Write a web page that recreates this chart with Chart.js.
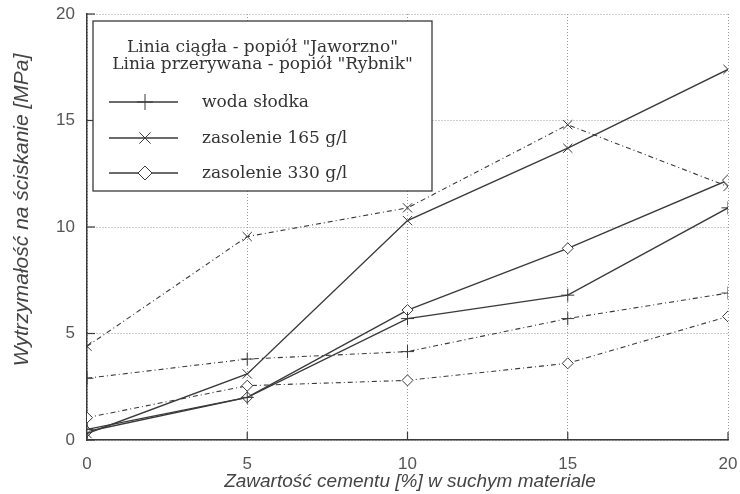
<!DOCTYPE html>
<html>
<head>
<meta charset="utf-8">
<script src="https://cdn.jsdelivr.net/npm/chart.js"></script>
<style>
  html, body { margin: 0; padding: 0; background: #fff; }
  #wrap { width: 740px; height: 494px; position: relative; }
</style>
</head>
<body>
<div id="wrap"><canvas id="wykres" width="740" height="494"></canvas></div>
<script>
"use strict";

// zawartość cementu [%]
var cement = [0, 5, 10, 15, 20];
var yTicks = [0, 5, 10, 15, 20];

// popiół "Jaworzno" (linia ciągła)
var jawWoda = [0.5, 2.0, 5.7, 6.8, 10.9];
var jaw165 = [0.3, 3.1, 10.3, 13.7, 17.4];
var jaw330 = [0.4, 2.0, 6.1, 9.0, 12.2];

// popiół "Rybnik" (linia przerywana)
var rybWoda = [2.9, 3.8, 4.15, 5.7, 6.9];
var ryb165 = [4.4, 9.55, 10.9, 14.8, 11.9];
var ryb330 = [1.05, 2.55, 2.8, 3.6, 5.8];

var legendHead = ['Linia ciągła - popiół "Jaworzno"', 'Linia przerywana - popiół "Rybnik"'];
var legendNames = ["woda słodka", "zasolenie 165 g/l", "zasolenie 330 g/l"];
var markers = ["cross", "crossRot", "rectRot"];

var xTitle = "Zawartość cementu [%] w suchym materiale";
var yTitle = "Wytrzymałość na ściskanie [MPa]";

var LINE = "#3a3a3a";
var DASHDOT = [5, 3, 1, 3];

function punkty(vals) {
  return vals.map(function (v, i) { return { x: cement[i], y: v }; });
}

function seria(label, vals, k, dashed) {
  return {
    label: label,
    data: punkty(vals),
    borderColor: LINE,
    borderWidth: dashed ? 1.1 : 1.4,
    borderDash: dashed ? DASHDOT : [],
    pointStyle: markers[k],
    pointRadius: k == 2 ? 5.5 : 6.5,
    pointBorderWidth: 1,
    pointBorderColor: LINE,
    pointBackgroundColor: "#fff",
    tension: 0,
    fill: false
  };
}

var datasets = [
  seria(legendNames[0] + " (Jaworzno)", jawWoda, 0, false),
  seria(legendNames[1] + " (Jaworzno)", jaw165, 1, false),
  seria(legendNames[2] + " (Jaworzno)", jaw330, 2, false),
  seria(legendNames[0] + " (Rybnik)", rybWoda, 0, true),
  seria(legendNames[1] + " (Rybnik)", ryb165, 1, true),
  seria(legendNames[2] + " (Rybnik)", ryb330, 2, true)
];

// krótkie kreski podziałki do wewnątrz + opisy osi
var osie = {
  id: "osie",
  afterDraw: function (chart) {
    var ctx = chart.ctx, a = chart.chartArea;
    var sx = chart.scales.x, sy = chart.scales.y;
    ctx.save();
    ctx.strokeStyle = LINE;
    ctx.lineWidth = 1.2;
    ctx.setLineDash([]);
    cement.forEach(function (v) {
      var px = sx.getPixelForValue(v);
      ctx.beginPath(); ctx.moveTo(px, a.bottom); ctx.lineTo(px, a.bottom - 8); ctx.stroke();
    });
    yTicks.forEach(function (v) {
      var py = sy.getPixelForValue(v);
      ctx.beginPath(); ctx.moveTo(a.left, py); ctx.lineTo(a.left + 8, py); ctx.stroke();
    });

    ctx.fillStyle = "#444";
    ctx.textAlign = "center";
    ctx.textBaseline = "middle";
    ctx.font = "italic 19px 'Liberation Sans', Arial, sans-serif";
    ctx.fillText(xTitle, 410, 482);
    ctx.font = "italic 21px 'Liberation Sans', Arial, sans-serif";
    ctx.translate(22, 210);
    ctx.rotate(-Math.PI / 2);
    ctx.fillText(yTitle, 0, 0);
    ctx.restore();
  }
};

// legenda w ramce
var legenda = {
  id: "legenda",
  afterDraw: function (chart) {
    var ctx = chart.ctx;
    var bx = 93, by = 21, bw = 339, bh = 170;
    ctx.save();
    ctx.fillStyle = "#fff";
    ctx.fillRect(bx, by, bw, bh);
    ctx.strokeStyle = LINE;
    ctx.lineWidth = 1.3;
    ctx.setLineDash([]);
    ctx.strokeRect(bx, by, bw, bh);

    ctx.fillStyle = "#333";
    ctx.font = "17px 'DejaVu Serif', serif";
    ctx.textAlign = "center";
    ctx.textBaseline = "alphabetic";
    ctx.fillText(legendHead[0], bx + bw / 2, 52);
    ctx.fillText(legendHead[1], bx + bw / 2, 69);

    var rows = [102, 138, 173];
    ctx.textAlign = "left";
    ctx.textBaseline = "middle";
    for (var k = 0; k < 3; k++) {
      var y = rows[k];
      ctx.strokeStyle = LINE;
      ctx.lineWidth = 1.3;
      ctx.beginPath(); ctx.moveTo(109, y); ctx.lineTo(178, y); ctx.stroke();
      ctx.fillStyle = "#fff";
      ctx.lineWidth = 1;
      Chart.helpers.drawPoint(ctx, {
        pointStyle: markers[k], rotation: 0,
        radius: k == 2 ? 7 : 8, borderWidth: 1
      }, 145, y);
      ctx.fillStyle = "#333";
      ctx.fillText(legendNames[k], 202, y + 1);
    }
    ctx.restore();
  }
};

new Chart(document.getElementById("wykres"), {
  type: "line",
  data: { datasets: datasets },
  options: {
    responsive: false,
    animation: false,
    layout: { padding: { left: 0, right: 0, top: 14, bottom: 0 } },
    plugins: { legend: { display: false }, tooltip: { enabled: false } },
    scales: {
      x: {
        type: "linear",
        min: 0, max: 20,
        afterFit: function (s) { s.height = 54; s.paddingRight = 12; },
        afterBuildTicks: function (s) { s.ticks = cement.map(function (v) { return { value: v }; }); },
        grid: { color: "#9a9a9a", lineWidth: 1, drawTicks: false },
        border: { display: true, color: LINE, width: 1.5, dash: [1, 2] },
        ticks: { padding: 14, color: "#555", font: { family: "'Liberation Sans', Arial, sans-serif", size: 17 } }
      },
      y: {
        min: 0, max: 20,
        afterFit: function (s) { s.width = 87; s.paddingTop = 0; },
        afterBuildTicks: function (s) { s.ticks = yTicks.map(function (v) { return { value: v }; }); },
        grid: { color: "#9a9a9a", lineWidth: 1, drawTicks: false },
        border: { display: true, color: LINE, width: 1.5, dash: [1, 2] },
        ticks: { padding: 12, color: "#555", font: { family: "'Liberation Sans', Arial, sans-serif", size: 17 } }
      }
    }
  },
  plugins: [osie, legenda]
});
</script>
</body>
</html>
